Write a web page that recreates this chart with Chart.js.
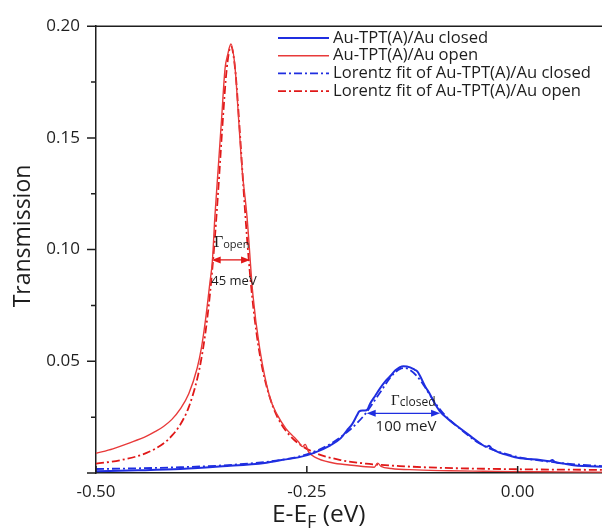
<!DOCTYPE html>
<html>
<head>
<meta charset="utf-8">
<script src="https://cdn.jsdelivr.net/npm/chart.js@4"></script>
<style>
  html, body { margin: 0; padding: 0; background: #fff; }
  canvas { display: block; }
</style>
</head>
<body>
<canvas id="chart" width="602" height="529"></canvas>
<script>
'use strict';

// Au-TPT(A)/Au closed (blue, solid)
const closedE = [-0.50, -0.45, -0.40, -0.35, -0.30, -0.28, -0.26, -0.243, -0.222, -0.21,
    -0.2026, -0.196, -0.1907, -0.188, -0.184, -0.181, -0.178, -0.175, -0.169, -0.163,
    -0.157, -0.151, -0.145, -0.1355, -0.1275, -0.122, -0.119, -0.1157, -0.11, -0.104,
    -0.098, -0.092, -0.082, -0.07, -0.056, -0.0445, -0.0365, -0.034, -0.031, -0.0208,
    -0.01, 0.0, 0.0267, 0.038, 0.041, 0.044, 0.055, 0.066, 0.08, 0.1];
const closedT = [0.0008, 0.0012, 0.0018, 0.003, 0.0045, 0.0058, 0.0070, 0.0088, 0.0124, 0.0155,
    0.019, 0.022, 0.0257, 0.0275, 0.028, 0.028, 0.0285, 0.031, 0.0345, 0.038,
    0.041, 0.0434, 0.046, 0.0478, 0.0473, 0.0462, 0.0455, 0.0434, 0.039, 0.0353,
    0.031, 0.0275, 0.024, 0.0205, 0.0165, 0.0133, 0.0117, 0.0122, 0.011, 0.009,
    0.0078, 0.0068, 0.0058, 0.0053, 0.0058, 0.005, 0.0042, 0.0035, 0.0031, 0.0028];

// Au-TPT(A)/Au open (red, solid)
const openE = [-0.50, -0.48, -0.46, -0.44, -0.43, -0.42, -0.41, -0.40, -0.39, -0.38,
    -0.375, -0.37, -0.365, -0.362, -0.359, -0.355, -0.351, -0.347, -0.344, -0.34,
    -0.335, -0.331, -0.327, -0.321, -0.314, -0.306, -0.294, -0.285, -0.275, -0.265,
    -0.26, -0.255, -0.252, -0.248, -0.24, -0.22, -0.20, -0.18, -0.17, -0.166,
    -0.162, -0.15, -0.12, -0.08, -0.04, 0.0, 0.05, 0.1];
const openT = [0.0088, 0.0108, 0.0135, 0.0165, 0.0185, 0.0208, 0.024, 0.0287, 0.0355, 0.047,
    0.056, 0.069, 0.085, 0.095, 0.115, 0.137, 0.159, 0.181, 0.187, 0.192,
    0.181, 0.159, 0.137, 0.115, 0.080, 0.056, 0.034, 0.026, 0.020, 0.016,
    0.014, 0.0118, 0.0128, 0.0095, 0.0070, 0.0046, 0.0036, 0.0028, 0.0026, 0.0044,
    0.0030, 0.0020, 0.0014, 0.0010, 0.0008, 0.0006, 0.0005, 0.0004];

// Lorentz fit of closed (blue, dash-dot)
const closedFitE = [-0.50, -0.45, -0.40, -0.35, -0.30, -0.275, -0.25, -0.225, -0.20, -0.19,
    -0.18, -0.17, -0.16, -0.15, -0.14, -0.135, -0.13, -0.12, -0.11, -0.10,
    -0.09, -0.08, -0.07, -0.045, -0.02, 0.005, 0.03, 0.065, 0.10];
const closedFitT = [0.0018, 0.0021, 0.0026, 0.0034, 0.0049, 0.0062, 0.0084, 0.0124, 0.019, 0.0225,
    0.0268, 0.0322, 0.0378, 0.0432, 0.0465, 0.047, 0.0466, 0.0436, 0.0385, 0.0325,
    0.0275, 0.0235, 0.0203, 0.0132, 0.0092, 0.0068, 0.0054, 0.004, 0.0031];

// Lorentz fit of open (red, dash-dot)
const openFitE = [-0.50, -0.47, -0.44, -0.42, -0.41, -0.40, -0.39, -0.38, -0.375, -0.37,
    -0.365, -0.36, -0.355, -0.35, -0.345, -0.34, -0.335, -0.33, -0.325, -0.32,
    -0.315, -0.31, -0.305, -0.30, -0.29, -0.28, -0.27, -0.26, -0.24, -0.21,
    -0.18, -0.14, -0.09, -0.04, 0.02, 0.10];
const openFitT = [0.0042, 0.0058, 0.0090, 0.0132, 0.0167, 0.0217, 0.0295, 0.0421, 0.0513, 0.0635,
    0.0796, 0.1006, 0.1268, 0.1559, 0.1808, 0.1910, 0.1808, 0.1559, 0.1268, 0.1006,
    0.0796, 0.0635, 0.0513, 0.0421, 0.0295, 0.0217, 0.0167, 0.0132, 0.0090, 0.0058,
    0.0042, 0.0031, 0.0023, 0.0019, 0.0016, 0.0014];

const labels = [
    'Au-TPT(A)/Au closed',
    'Au-TPT(A)/Au open',
    'Lorentz fit of Au-TPT(A)/Au closed',
    'Lorentz fit of Au-TPT(A)/Au open'
];

const xTicks = [-0.5, -0.25, 0];
const yTicks = [0, 0.05, 0.1, 0.15, 0.2];
const yMinorTicks = [0.025, 0.075, 0.125, 0.175];

// FWHM markers: [from E, to E, at T]
const openWidth = [-0.3628, -0.3173, 0.0954];
const closedWidth = [-0.179, -0.092, 0.0267];

const FONT = "'Open Sans', 'DejaVu Sans', sans-serif";
const SERIF = "'Liberation Serif', 'DejaVu Serif', serif";
const INK = '#1e1e1e';
const BLUE = '#1f2ee0';
const RED = '#e83a3a';
const RED_FIT = '#e01818';
const DASHDOT = [8, 3, 2, 3];

function points(xs, ys) {
    return xs.map((x, i) => ({ x: x, y: ys[i] }));
}

function arrow(ctx, x1, x2, y, color) {
    ctx.save();
    ctx.strokeStyle = color;
    ctx.fillStyle = color;
    ctx.lineWidth = 1.3;
    ctx.setLineDash([]);
    ctx.beginPath();
    ctx.moveTo(x1 + 6, y);
    ctx.lineTo(x2 - 6, y);
    ctx.stroke();
    ctx.beginPath();
    ctx.moveTo(x1, y);
    ctx.lineTo(x1 + 9, y - 3.5);
    ctx.lineTo(x1 + 9, y + 3.5);
    ctx.closePath();
    ctx.fill();
    ctx.beginPath();
    ctx.moveTo(x2, y);
    ctx.lineTo(x2 - 9, y - 3.5);
    ctx.lineTo(x2 - 9, y + 3.5);
    ctx.closePath();
    ctx.fill();
    ctx.restore();
}

function gammaLabel(ctx, x, y, sub, size, subSize) {
    ctx.font = size + 'px ' + SERIF;
    ctx.fillText('\u0393', x, y);
    const w = ctx.measureText('\u0393').width;
    ctx.font = subSize + 'px ' + FONT;
    ctx.fillText(sub, x + w, y + 1);
}

const decorations = {
    id: 'decorations',
    afterDraw(chart) {
        const ctx = chart.ctx;
        const { left, right, top, bottom } = chart.chartArea;
        const xs = chart.scales.x;
        const ys = chart.scales.y;

        ctx.save();
        ctx.strokeStyle = INK;
        ctx.lineWidth = 1.5;
        ctx.beginPath();
        ctx.moveTo(left, top);
        ctx.lineTo(right, top);
        yTicks.forEach(v => {
            const py = ys.getPixelForValue(v);
            ctx.moveTo(left - 9, py);
            ctx.lineTo(left, py);
        });
        yMinorTicks.forEach(v => {
            const py = ys.getPixelForValue(v);
            ctx.moveTo(left - 5, py);
            ctx.lineTo(left, py);
        });
        xTicks.forEach(v => {
            const px = xs.getPixelForValue(v);
            ctx.moveTo(px, bottom);
            ctx.lineTo(px, bottom - 7);
        });
        ctx.stroke();

        // legend
        ctx.textBaseline = 'middle';
        ctx.textAlign = 'left';
        ctx.font = '16.6px ' + FONT;
        chart.data.datasets.forEach((ds, i) => {
            const ly = 38 + i * 17.7;
            ctx.strokeStyle = ds.borderColor;
            ctx.lineWidth = ds.borderWidth;
            ctx.setLineDash(ds.borderDash || []);
            ctx.beginPath();
            ctx.moveTo(278, ly);
            ctx.lineTo(329, ly);
            ctx.stroke();
            ctx.fillStyle = INK;
            ctx.fillText(ds.label, 333, ly);
        });
        ctx.setLineDash([]);

        // FWHM arrows
        arrow(ctx, xs.getPixelForValue(openWidth[0]), xs.getPixelForValue(openWidth[1]),
            ys.getPixelForValue(openWidth[2]), RED_FIT);
        arrow(ctx, xs.getPixelForValue(closedWidth[0]), xs.getPixelForValue(closedWidth[1]),
            ys.getPixelForValue(closedWidth[2]), BLUE);

        ctx.fillStyle = INK;
        ctx.textBaseline = 'alphabetic';
        ctx.textAlign = 'left';
        gammaLabel(ctx, 214, 247, 'open', 16, 11);
        gammaLabel(ctx, 391, 405, 'closed', 15, 12);
        ctx.textAlign = 'center';
        ctx.font = '13px ' + FONT;
        ctx.fillText('45 meV', 234, 285);
        ctx.font = '15px ' + FONT;
        ctx.fillText('100 meV', 406, 431);

        // axis titles
        ctx.textAlign = 'left';
        ctx.font = '24.5px ' + FONT;
        let tx = 272;
        ctx.fillText('E-E', tx, 522);
        tx += ctx.measureText('E-E').width;
        ctx.font = '18px ' + FONT;
        ctx.fillText('F', tx, 528);
        tx += ctx.measureText('F').width;
        ctx.font = '24.5px ' + FONT;
        ctx.fillText(' (eV)', tx, 522);

        ctx.font = '23px ' + FONT;
        ctx.translate(30, 236);
        ctx.rotate(-Math.PI / 2);
        ctx.textAlign = 'center';
        ctx.fillText('Transmission', 0, 0);
        ctx.restore();
    }
};

const tickFont = { family: FONT, size: 17 };

new Chart(document.getElementById('chart'), {
    type: 'line',
    data: {
        datasets: [
            { label: labels[0], data: points(closedE, closedT), borderColor: BLUE, borderWidth: 2 },
            { label: labels[1], data: points(openE, openT), borderColor: RED, borderWidth: 1.4 },
            { label: labels[2], data: points(closedFitE, closedFitT), borderColor: BLUE, borderWidth: 1.8, borderDash: DASHDOT },
            { label: labels[3], data: points(openFitE, openFitT), borderColor: RED_FIT, borderWidth: 1.8, borderDash: DASHDOT }
        ]
    },
    options: {
        responsive: false,
        animation: false,
        parsing: false,
        elements: {
            point: { radius: 0 },
            line: { cubicInterpolationMode: 'monotone', fill: false }
        },
        layout: { padding: { top: 21, right: 0, left: 0, bottom: 0 } },
        plugins: {
            legend: { display: false },
            tooltip: { enabled: false }
        },
        scales: {
            x: {
                type: 'linear',
                min: -0.5,
                max: 0.1,
                afterBuildTicks: s => { s.ticks = xTicks.map(v => ({ value: v })); },
                afterFit: s => { s.height = 56; },
                grid: { display: false, drawTicks: false },
                border: { display: true, color: INK, width: 1.5 },
                ticks: {
                    callback: v => v.toFixed(2),
                    font: tickFont,
                    color: INK,
                    padding: 9,
                    maxRotation: 0,
                    autoSkip: false
                }
            },
            y: {
                type: 'linear',
                min: 0,
                max: 0.2,
                afterBuildTicks: s => { s.ticks = yTicks.map(v => ({ value: v })); },
                afterFit: s => { s.width = 96; },
                grid: { display: false, drawTicks: false },
                border: { display: true, color: INK, width: 1.5 },
                ticks: {
                    callback: v => (v === 0 ? '' : v.toFixed(2)),
                    font: tickFont,
                    color: INK,
                    padding: 16,
                    autoSkip: false
                }
            }
        }
    },
    plugins: [decorations]
});
</script>
</body>
</html>
